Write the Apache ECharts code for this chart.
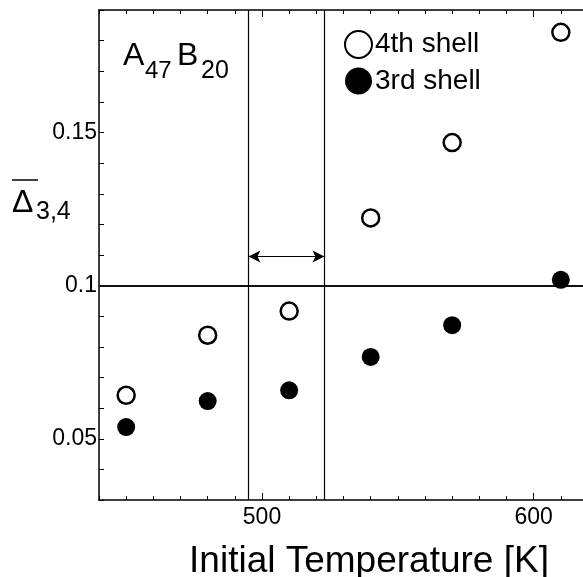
<!DOCTYPE html>
<html>
<head>
<meta charset="utf-8">
<script src="https://cdn.jsdelivr.net/npm/echarts@6/dist/echarts.min.js"></script>
<style>
html, body { margin: 0; padding: 0; background: #fff; }
#chart { width: 583px; height: 577px; }
</style>
</head>
<body>
<div id="chart"></div>
<script>
// initial temperature [K]
var temperatures = [450, 480, 510, 540, 570, 610];
// mean displacement, 4th shell (open circles)
var shell4 = [0.0642, 0.0838, 0.0917, 0.1221, 0.1467, 0.1827];
// mean displacement, 3rd shell (filled circles)
var shell3 = [0.0538, 0.0623, 0.0658, 0.0767, 0.0871, 0.1019];
// guide lines
var windowEdges = [495, 523];
var arrowLevel = 0.1095;
var refLevel = 0.1;
// labelled ticks
var xMajor = [500, 600];
var yMajor = [0.05, 0.1, 0.15];

var font = 'Liberation Sans, Arial, Helvetica, sans-serif';

function pairs(ys) {
    return ys.map(function (v, i) { return [temperatures[i], v]; });
}

function isMajor(v, list) {
    return list.some(function (m) { return Math.abs(m - v) < 1e-6; });
}

var frameLine = { show: true, onZero: false, lineStyle: { color: '#000', width: 1.5 } };

function xAxisOf(pos, withLabels) {
    return {
        type: 'value', position: pos, min: 440, max: 620, interval: 10,
        axisLine: frameLine,
        axisTick: { show: true, inside: true, length: 4, lineStyle: { color: '#000', width: 1 } },
        axisLabel: {
            show: withLabels, margin: 6, color: '#000', fontSize: 23, fontFamily: font,
            formatter: function (v) { return isMajor(v, xMajor) ? String(v) : ''; }
        },
        splitLine: { show: false }
    };
}

// longer ticks at 500 and 600
function xMajorTicks(pos) {
    return {
        type: 'value', position: pos, min: 440, max: 620,
        axisLine: { show: false },
        axisTick: { show: true, inside: true, length: 7, customValues: xMajor, lineStyle: { color: '#000', width: 1 } },
        axisLabel: { show: false },
        splitLine: { show: false }
    };
}

function yAxisOf(pos, withLabels) {
    return {
        type: 'value', position: pos, min: 0.03, max: 0.19, interval: 0.01,
        axisLine: frameLine,
        axisTick: { show: true, inside: true, length: 5, lineStyle: { color: '#000', width: 1 } },
        axisLabel: {
            show: withLabels, margin: 2, color: '#000', fontSize: 23, fontFamily: font,
            formatter: function (v) { return isMajor(v, yMajor) ? String(+v.toFixed(2)) : ''; }
        },
        splitLine: { show: false }
    };
}

var xBottom = xAxisOf('bottom', true);
xBottom.name = 'Initial Temperature [K]';
xBottom.nameLocation = 'middle';
xBottom.nameGap = 43;
xBottom.nameTextStyle = { color: '#000', fontSize: 37, fontFamily: font, padding: [0, 0, 0, 51] };

var chart = echarts.init(document.getElementById('chart'));

var option = {
    backgroundColor: '#fff',
    animation: false,
    grid: { left: 99, right: -5, top: 10, bottom: 77, containLabel: false, outerBoundsMode: 'none' },
    xAxis: [xBottom, xAxisOf('top', false), xMajorTicks('bottom'), xMajorTicks('top')],
    yAxis: [yAxisOf('left', true), yAxisOf('right', false)],
    legend: {
        data: ['4th shell', '3rd shell'],
        orient: 'vertical',
        left: 344, top: 30, padding: 0,
        itemWidth: 27, itemHeight: 27, itemGap: 8,
        selectedMode: false,
        textStyle: { color: '#000', fontSize: 28, fontFamily: font, padding: [0, 0, 0, -2] }
    },
    graphic: [
        // sample label A47B20
        { type: 'text', x: 123, y: 40, style: { text: 'A', fontSize: 32, fontFamily: font, fill: '#000', verticalAlign: 'top', textVerticalAlign: 'top' } },
        { type: 'text', x: 145, y: 59, style: { text: '47', fontSize: 24, fontFamily: font, fill: '#000', verticalAlign: 'top', textVerticalAlign: 'top' } },
        { type: 'text', x: 177, y: 40, style: { text: 'B', fontSize: 32, fontFamily: font, fill: '#000', verticalAlign: 'top', textVerticalAlign: 'top' } },
        { type: 'text', x: 201, y: 59, style: { text: '20', fontSize: 25, fontFamily: font, fill: '#000', verticalAlign: 'top', textVerticalAlign: 'top' } },
        // y axis title: overlined Delta with subscript 3,4
        { type: 'line', shape: { x1: 12, y1: 180, x2: 38, y2: 180 }, style: { stroke: '#000', lineWidth: 1.5 } },
        { type: 'text', x: 12, y: 187, style: { text: '\u0394', fontSize: 32, fontFamily: font, fill: '#000', verticalAlign: 'top', textVerticalAlign: 'top' } },
        { type: 'text', x: 36, y: 200, style: { text: '3,4', fontSize: 25, fontFamily: font, fill: '#000', verticalAlign: 'top', textVerticalAlign: 'top' } }
    ],
    series: [
        {
            name: '4th shell',
            type: 'scatter',
            symbol: 'circle',
            symbolSize: 17,
            itemStyle: { color: '#fff', borderColor: '#000', borderWidth: 2.5, opacity: 1 },
            z: 5,
            data: pairs(shell4)
        },
        {
            name: '3rd shell',
            type: 'scatter',
            symbol: 'circle',
            symbolSize: 18,
            itemStyle: { color: '#000', opacity: 1 },
            z: 5,
            data: pairs(shell3),
            markLine: {
                silent: true,
                symbol: 'none',
                label: { show: false },
                lineStyle: { color: '#000', type: 'solid', width: 1.2 },
                data: [
                    { yAxis: refLevel, lineStyle: { width: 2, color: '#111' } },
                    { xAxis: windowEdges[0] },
                    { xAxis: windowEdges[1] },
                    [
                        { coord: [windowEdges[0], arrowLevel], symbol: 'arrow', symbolSize: [9, 12] },
                        { coord: [windowEdges[1], arrowLevel], symbol: 'arrow', symbolSize: [9, 12] }
                    ]
                ]
            }
        }
    ]
};

chart.setOption(option);
</script>
</body>
</html>
